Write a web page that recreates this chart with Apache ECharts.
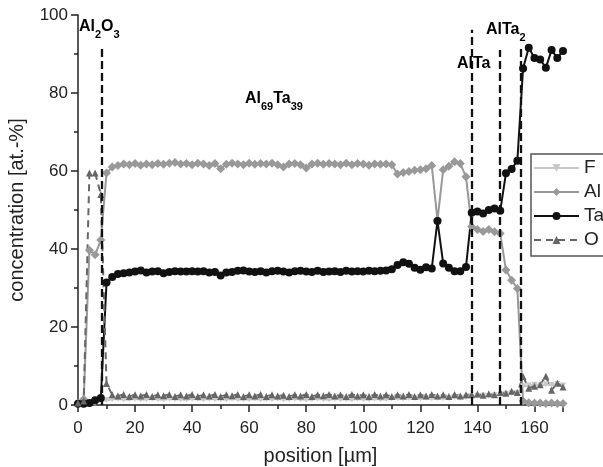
<!DOCTYPE html>
<html>
<head>
<meta charset="utf-8">
<script src="https://cdn.jsdelivr.net/npm/echarts@6/dist/echarts.min.js"></script>
<style>
  html, body { margin: 0; padding: 0; background: #fff; }
  #chart { width: 603px; height: 467px; }
</style>
</head>
<body>
<div id="chart"></div>
<script>
// Depth profile: position along the scan (µm) and element concentrations (at.-%)
var positions = [];
for (var p = 0; p <= 170; p += 2) positions.push(p);

var taValues = [
  0.3, 0.3, 0.5, 1.2, 1.8, 31.4, 32.8, 33.6, 33.8, 34.0,
  34.2, 34.5, 34.0, 34.2, 34.3, 33.8, 34.1, 34.3, 34.2, 34.2,
  34.3, 34.2, 34.3, 34.0, 34.1, 33.2, 34.0, 34.1, 34.4, 34.5,
  34.2, 34.1, 34.3, 34.0, 34.3, 34.4, 34.2, 34.0, 34.3, 34.4,
  34.2, 34.1, 34.4, 34.1, 34.2, 34.3, 34.1, 34.4, 34.2, 34.3,
  34.2, 34.4, 34.3, 34.4, 34.5, 34.8, 35.9, 36.6, 36.2, 35.2,
  34.7, 35.3, 35.0, 47.2, 36.3, 35.2, 34.3, 34.3, 35.4, 49.3,
  49.6, 49.1, 50.0, 50.4, 49.8, 59.4, 60.5, 62.6, 86.3, 91.6,
  89.0, 88.6, 86.5, 91.0, 89.0, 90.8
];

var alValues = [
  0.5, 1.5, 39.7, 38.5, 42.3, 59.5, 61.0, 61.4, 61.8, 61.6,
  61.9, 61.5, 61.8, 61.6, 61.9, 61.7, 62.0, 62.2, 61.8, 61.9,
  61.6, 62.0, 61.8, 61.4, 61.9, 60.6, 61.7, 62.0, 61.8, 61.6,
  62.0, 61.7, 61.9, 61.8, 62.0, 61.6, 61.0, 61.8, 61.9, 61.6,
  60.8, 61.8, 62.0, 61.7, 61.9, 61.8, 61.6, 62.0, 61.6, 61.9,
  61.8, 61.5, 61.8, 61.7, 61.8, 61.6, 59.2, 59.6, 59.9, 60.2,
  60.3, 60.6, 61.4, 47.4, 60.3, 61.2, 62.4, 61.9, 58.5, 45.7,
  45.0, 44.5, 45.0, 44.4, 44.0, 34.6, 32.0, 29.9, 1.0, 0.6,
  0.5, 0.5, 0.4, 0.5, 0.4, 0.4
];

var oValues = [
  0.5, 1.0, 59.5, 59.5, 54.0, 5.5, 2.6, 2.3, 2.7, 2.2,
  2.6, 2.3, 2.7, 2.2, 2.6, 2.4, 2.7, 2.2, 2.6, 2.3,
  2.7, 2.2, 2.6, 2.3, 2.7, 2.2, 2.6, 2.4, 2.7, 2.2,
  2.6, 2.3, 2.7, 2.2, 2.6, 2.3, 2.5, 2.2, 2.6, 2.3,
  2.7, 2.2, 2.6, 2.4, 2.7, 2.3, 2.6, 2.2, 2.7, 2.3,
  2.6, 2.2, 2.7, 2.3, 2.6, 2.2, 2.6, 2.3, 2.7, 2.2,
  2.6, 2.3, 2.7, 2.3, 2.6, 2.2, 2.7, 2.3, 2.6, 2.6,
  2.8, 2.5, 2.9, 2.6, 3.2, 3.0, 3.5, 3.2, 7.3, 4.3,
  4.8, 5.2, 7.4, 3.8, 5.6, 4.6
];

var fValues = [
  0.0, 0.2, 0.3, 0.5, 1.0, 1.3, 1.5, 1.6, 1.4, 1.5,
  1.6, 1.4, 1.5, 1.6, 1.5, 1.4, 1.6, 1.5, 1.5, 1.4,
  1.6, 1.5, 1.4, 1.6, 1.5, 1.5, 1.4, 1.6, 1.5, 1.4,
  1.5, 1.6, 1.4, 1.5, 1.5, 1.6, 1.4, 1.5, 1.6, 1.5,
  1.4, 1.5, 1.6, 1.5, 1.4, 1.6, 1.5, 1.5, 1.4, 1.6,
  1.5, 1.4, 1.6, 1.5, 1.5, 1.6, 1.7, 1.6, 1.8, 1.7,
  1.6, 1.8, 1.7, 1.8, 1.7, 1.8, 1.9, 1.8, 1.9, 2.2,
  2.3, 2.4, 2.3, 2.5, 2.6, 2.9, 3.0, 3.1, 4.8, 5.0,
  5.2, 5.0, 5.3, 5.1, 5.4, 5.0
];

// Phase boundaries: [position, top of the dashed line]
var boundaries = [[8.4, 91.8], [137.9, 96.2], [148.0, 91.0], [155.2, 91.5]];

var xTicks = { min: 0, max: 170, interval: 20 };
var yTicks = { min: 0, max: 100, interval: 20 };

function pairs(vals) {
  return positions.map(function (x, i) { return [x, vals[i]]; });
}

var font = 'Liberation Sans, Arial, sans-serif';
var chart = echarts.init(document.getElementById('chart'), null, { renderer: 'canvas' });

var axisCommon = {
  type: 'value',
  axisLine: { show: true, lineStyle: { color: '#222', width: 1.5 } },
  axisTick: { show: true, inside: false, length: 7, lineStyle: { color: '#222', width: 1.5 } },
  minorTick: { show: true, splitNumber: 2, length: 4, lineStyle: { color: '#222', width: 1.5 } },
  splitLine: { show: false },
  axisLabel: { color: '#222', fontSize: 17, fontFamily: font },
  nameTextStyle: { color: '#222', fontSize: 20, fontFamily: font }
};

var richSub = {
  b: { fontSize: 16, fontWeight: 'bold', fontFamily: font, color: '#222', lineHeight: 16, verticalAlign: 'top' },
  s: { fontSize: 11, fontWeight: 'bold', fontFamily: font, color: '#222', lineHeight: 12, verticalAlign: 'top', padding: [10, 0, 0, 0] }
};

function label(x, y, text) {
  return { type: 'text', left: x, top: y, z: 100, style: { text: text, rich: richSub } };
}

var option = {
  backgroundColor: '#fff',
  animation: false,
  grid: { left: 78, right: 40, top: 15, bottom: 62, containLabel: false, outerBoundsMode: 'none' },
  xAxis: Object.assign({}, axisCommon, {
    min: xTicks.min, max: xTicks.max, interval: xTicks.interval,
    name: 'position [µm]', nameLocation: 'middle', nameGap: 41,
    axisLabel: Object.assign({}, axisCommon.axisLabel, { margin: 15, showMaxLabel: false })
  }),
  yAxis: Object.assign({}, axisCommon, {
    min: yTicks.min, max: yTicks.max, interval: yTicks.interval,
    name: 'concentration [at.-%]', nameLocation: 'middle', nameGap: 51,
    axisLabel: Object.assign({}, axisCommon.axisLabel, { margin: 10 })
  }),
  legend: {
    data: ['F', 'Al', 'Ta', 'O'],
    orient: 'vertical',
    left: 531, top: 154,
    padding: [3, 60, 5, 2],
    itemWidth: 45, itemHeight: 10, itemGap: 2,
    borderColor: '#555', borderWidth: 1.5,
    textStyle: { fontSize: 19, fontFamily: font, color: '#222', lineHeight: 22 }
  },
  graphic: [
    label(79, 19, '{b|Al}{s|2}{b|O}{s|3}'),
    label(486, 22, '{b|AlTa}{s|2}'),
    label(457, 56, '{b|AlTa}'),
    label(245, 91, '{b|Al}{s|69}{b|Ta}{s|39}')
  ],
  series: [
    {
      name: 'boundaries', type: 'line', data: [], silent: true,
      markLine: {
        silent: true, symbol: 'none', label: { show: false },
        lineStyle: { color: '#111', width: 2.3, type: [8, 4] },
        data: boundaries.map(function (b) { return [{ coord: [b[0], 0] }, { coord: [b[0], b[1]] }]; })
      }
    },
    {
      name: 'F', type: 'line', data: pairs(fValues),
      symbol: 'triangle', symbolRotate: 180, symbolSize: 6,
      lineStyle: { color: '#c8c8c8', width: 2.5 }, itemStyle: { color: '#c8c8c8' }
    },
    {
      name: 'Al', type: 'line', data: pairs(alValues),
      symbol: 'diamond', symbolSize: 9,
      lineStyle: { color: '#999', width: 2 }, itemStyle: { color: '#999' }
    },
    {
      name: 'Ta', type: 'line', data: pairs(taValues),
      symbol: 'circle', symbolSize: 8,
      lineStyle: { color: '#111', width: 2 }, itemStyle: { color: '#111' }
    },
    {
      name: 'O', type: 'line', data: pairs(oValues),
      symbol: 'triangle', symbolSize: 7,
      lineStyle: { color: '#666', width: 2, type: [7, 5] }, itemStyle: { color: '#666' }
    }
  ]
};

chart.setOption(option);
</script>
</body>
</html>
